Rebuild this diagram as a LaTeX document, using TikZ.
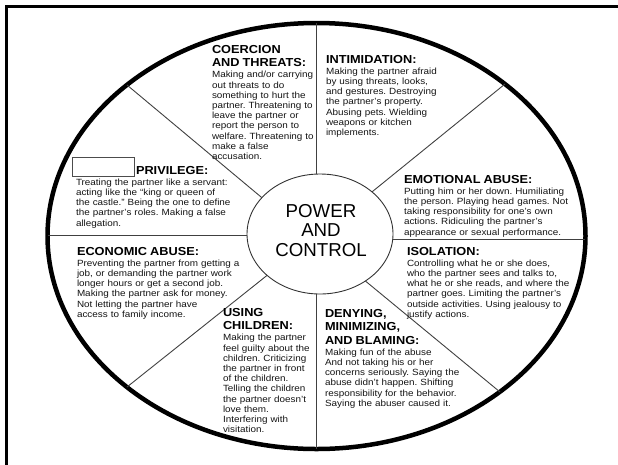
\documentclass[tikz,border=0pt]{standalone}
\usepackage{fontspec}
\usetikzlibrary{shapes.geometric}
\newfontfamily\bodyf[FakeStretch=1.1,Ligatures=TeX]{Liberation Sans}
\newfontfamily\centf[Ligatures=TeX]{Liberation Sans}
\newcommand\wttl{\bodyf\bfseries\fontsize{11.6}{13.5}\selectfont\color{black}}
\frenchspacing
\begin{document}
\begin{tikzpicture}[x=1pt,y=-1pt,
  blk/.style={anchor=north west,inner sep=0pt,outer sep=0pt,text width=200pt,align=left,
    font=\bodyf\fontsize{9}{10.2}\selectfont\frenchspacing,text=black!92},
  spoke/.style={draw=black!75,line width=0.9pt},
  rim/.style={draw=black,line width=4.5pt,ellipse,inner sep=0pt,outer sep=0pt,
    minimum width=538pt,minimum height=426pt},
  hub/.style={draw=black!80,line width=0.9pt,ellipse,inner sep=0pt,outer sep=0pt,
    minimum width=146pt,minimum height=120pt},
  hubtxt/.style={inner sep=0pt,align=center,font=\centf\fontsize{18.7}{19.5}\selectfont},
  frame/.style={draw=black,line width=3.3pt}]
\useasboundingbox (0,0) rectangle (618,464);
\draw[frame] (6.6,470) -- (6.6,6.6) -- (625,6.6);
% wheel
\node[rim] (wheel) at (316.5,236) {};
\node[hub] (hub) at (320,234) {};
\node[hubtxt] (hubtext) at (321,230.4) {POWER\\AND\\CONTROL};
% spoke ends on the rim
\coordinate (e1) at (316,23);
\coordinate (e2) at (505,84);
\coordinate (e3) at (585,239);
\coordinate (e4) at (500,392);
\coordinate (e5) at (316,449);
\coordinate (e6) at (127,387);
\coordinate (e7) at (47.5,235);
\coordinate (e8) at (127,85);
\draw[spoke] (e1) -- (e1 |- hub.north);
\draw[spoke] (e2) -- (hub.39.7);
\draw[spoke] (e3) -- (e3 -| hub.east);
\draw[spoke] (e4) -- (hub.314.4);
\draw[spoke] (e5) -- (e5 |- hub.south);
\draw[spoke] (e6) -- (hub.218);
\draw[spoke] (e7) -- (e7 -| hub.west);
\draw[spoke] (e8) -- (hub.148.3);
% texts
\node[blk] (coer) at (212,45) {{\wttl COERCION\\AND THREATS:\par}\vspace{1pt}%
Making and/or carrying\\out threats to do\\something to hurt the\\partner. Threatening to\\leave the partner or\\report the person to\\welfare. Threatening to\\make a false\\accusation.};
\node[blk] (intim) at (326,55) {{\wttl INTIMIDATION:\par}\vspace{1pt}%
Making the partner afraid\\by using threats, looks,\\and gestures. Destroying\\the partner's property.\\Abusing pets. Wielding\\weapons or kitchen\\implements.};
\node[blk] (emot) at (404,175) {{\wttl EMOTIONAL ABUSE:\par}\vspace{1pt}%
Putting him or her down. Humiliating\\the person. Playing head games. Not\\taking responsibility for one's own\\actions. Ridiculing the partner's\\appearance or sexual performance.};
\node[blk] (isol) at (407,247) {{\wttl ISOLATION:\par}\vspace{1pt}%
Controlling what he or she does,\\who the partner sees and talks to,\\what he or she reads, and where the\\partner goes. Limiting the partner's\\outside activities. Using jealousy to\\justify actions.};
\node[blk] (deny) at (325,309) {{\wttl DENYING,\\MINIMIZING,\\AND BLAMING:\par}\vspace{1pt}%
Making fun of the abuse\\And not taking his or her\\concerns seriously. Saying the\\abuse didn't happen. Shifting\\responsibility for the behavior.\\Saying the abuser caused it.};
\node[blk] (child) at (223,308) {{\wttl USING\\CHILDREN:\par}\vspace{1pt}%
Making the partner\\feel guilty about the\\children. Criticizing\\the partner in front\\of the children.\\Telling the children\\the partner doesn't\\love them.\\Interfering with\\visitation.};
\node[blk] (econ) at (77,247) {{\wttl ECONOMIC ABUSE:\par}\vspace{1pt}%
Preventing the partner from getting a\\job, or demanding the partner work\\longer hours or get a second job.\\Making the partner ask for money.\\Not letting the partner have\\access to family income.};
\draw[draw=black!70,line width=0.6pt,fill=white] (72,157) rectangle (134,176);
\node[blk] (priv) at (76,166) {{\wttl\hspace*{60pt}PRIVILEGE:\par}\vspace{1pt}%
Treating the partner like a servant:\\acting like the ``king or queen of\\the castle.'' Being the one to define\\the partner's roles. Making a false\\allegation.};
\end{tikzpicture}
\end{document}
